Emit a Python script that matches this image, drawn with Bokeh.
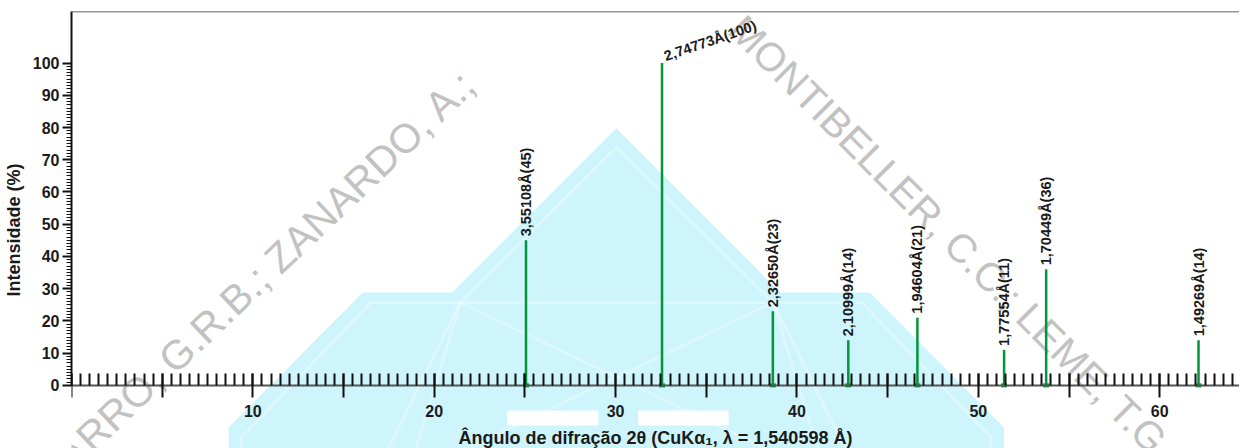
import math
from bokeh.plotting import figure
from bokeh.models import (Range1d, SingleIntervalTicker, FixedTicker, Span,
                          ColumnDataSource, PolyAnnotation, Label)
from bokeh.core.properties import value
from bokeh.embed import file_html
from bokeh.resources import INLINE

# ---------------- data ----------------
two_theta = [25.06, 32.56, 38.67, 42.83, 46.64, 51.42, 53.74, 62.14]
intensity = [45, 100, 23, 14, 21, 11, 36, 14]
d_spacing = ["3,55108", "2,74773", "2,32650", "2,10999",
             "1,94604", "1,77554", "1,70449", "1,49269"]
x_label_values = [10, 20, 30, 40, 50, 60]
y_tick_values = [0, 10, 20, 30, 40, 50, 60, 70, 80, 90, 100]

x_title = "Ângulo de difração 2θ (CuKα₁, λ = 1,540598 Å)"
y_title = "Intensidade (%)"
wm_left = "ZARRO, G.R.B.; ZANARDO, A.;"
wm_right = "MONTIBELLER, C.C.; LEME, T.G."

X0, X1 = 0, 64.4
Y1 = 116
Y0 = -19.59   # the frame runs down to the bottom of the page; the x axis sits at 0

FONT = "Liberation Sans"
GREEN = "#00963c"
INK = "#1a1a1a"

p = figure(width=1239, height=448, output_backend="svg", toolbar_location=None,
           x_range=Range1d(X0, X1), y_range=Range1d(Y0, Y1),
           min_border_left=64, min_border_right=0, min_border_top=11,
           min_border_bottom=0)
p.outline_line_color = None
p.grid.visible = False
p.background_fill_color = "white"
p.border_fill_color = "white"

# ---------------- watermark (page pixel geometry -> data) ----------------
FL, FR, FT, FB = 72, 1247, 11, 448
def wx(px):
    return X0 + (px - FL) * (X1 - X0) / (FR - FL)
def wy(py):
    return Y0 + (FB - py) * (Y1 - Y0) / (FB - FT)

def poly(pts, **kw):
    p.add_layout(PolyAnnotation(xs=[wx(a) for a, b in pts], ys=[wy(b) for a, b in pts],
                                level="underlay", **kw))

poly([(620, 128), (785, 292), (875, 292), (1010, 427), (1010, 470),
      (230, 470), (230, 427), (365, 292), (455, 292)],
     fill_color="#cdf5fb", fill_alpha=1.0, line_color=None)
white_lines = [
    [(243, 470), (243, 437), (373, 302), (867, 302), (997, 437), (997, 470)],
    [(463, 302), (620, 147), (778, 302)],
    [(463, 302), (817, 470)],
    [(778, 302), (424, 470)],
    [(463, 302), (380, 470)],
    [(463, 302), (412, 470)],
    [(778, 302), (861, 470)],
    [(778, 302), (829, 470)],
]
for pts in white_lines:
    poly(pts + list(reversed(pts)), fill_alpha=0, line_color="white", line_width=3)
for (a, b) in [(510, 602), (642, 733)]:
    poly([(a, 410), (b, 410), (b, 425), (a, 425)], fill_color="white", fill_alpha=1.0,
         line_color=None)

for txt, (cx, cy), ang, fs in [(wm_left, (259, 278), 43.5, "41px"),
                               (wm_right, (958, 238), -45.0, "40px")]:
    p.add_layout(Label(x=wx(cx), y=wy(cy), text=txt, angle=math.radians(ang),
                       text_align="center", text_baseline="middle",
                       text_font=FONT, text_font_size=fs,
                       text_color="#c2c2c2", level="underlay"))

# ---------------- peaks ----------------
labels = [f"{d}Å({i})" for d, i in zip(d_spacing, intensity)]
src = ColumnDataSource(dict(x=two_theta, y=intensity, zero=[0] * len(two_theta), lab=labels))
p.segment(x0="x", y0="zero", x1="x", y1="y", source=src, line_color=GREEN, line_width=2.5)
p.rect(x="x", y="zero", width=6, height=4, width_units="screen", height_units="screen",
       source=src, fill_color=GREEN, line_color=None)

imax = intensity.index(max(intensity))
vert = [k for k in range(len(two_theta)) if k != imax]
vsrc = ColumnDataSource(dict(x=[two_theta[k] for k in vert], y=[intensity[k] for k in vert],
                             lab=[labels[k] for k in vert]))
p.text(x="x", y="y", text="lab", source=vsrc, angle=math.pi / 2, text_align="left",
       text_baseline="middle", y_offset=-4, text_font=value(FONT),
       text_font_style="bold", text_font_size="14.5px", text_color=INK)
tsrc = ColumnDataSource(dict(x=[two_theta[imax]], y=[intensity[imax]], lab=[labels[imax]]))
p.text(x="x", y="y", text="lab", source=tsrc, angle=math.radians(19), text_align="left",
       text_baseline="bottom", x_offset=5, y_offset=1, text_font=value(FONT),
       text_font_style="bold", text_font_size="14.5px", text_color=INK)

# top border line
p.add_layout(Span(location=Y1, dimension="width", line_color="#333333", line_width=1.5))

# ---------------- axes ----------------
xa = p.xaxis[0]
xa.fixed_location = 0
xa.ticker = SingleIntervalTicker(interval=5, num_minor_ticks=10)
xa.major_label_overrides = {t: "" for t in range(0, 70, 5) if t not in x_label_values}
xa.axis_line_color = "#555555"
xa.axis_line_width = 2
xa.major_tick_in = 12
xa.major_tick_out = 12
xa.minor_tick_in = 12
xa.minor_tick_out = 0
xa.major_tick_line_width = 2
xa.minor_tick_line_width = 2
xa.major_tick_line_color = "#111111"
xa.minor_tick_line_color = "#111111"
xa.major_label_standoff = 8
xa.major_label_text_font = FONT
xa.major_label_text_font_style = "bold"
xa.major_label_text_font_size = "16px"
xa.major_label_text_color = INK
xa.axis_label = x_title
xa.axis_label_text_font = FONT
xa.axis_label_text_font_style = "bold"
xa.axis_label_text_font_size = "18px"
xa.axis_label_text_color = INK
xa.axis_label_standoff = 7

ya = p.yaxis[0]
ya.bounds = (0, Y1)
ya.ticker = FixedTicker(ticks=y_tick_values, minor_ticks=list(range(0, 101)))
ya.axis_line_color = "#111111"
ya.axis_line_width = 2
ya.major_tick_in = 0
ya.major_tick_out = 9
ya.minor_tick_in = 0
ya.minor_tick_out = 5
ya.major_tick_line_width = 2
ya.minor_tick_line_width = 1
ya.major_tick_line_color = "#111111"
ya.minor_tick_line_color = "#111111"
ya.major_label_standoff = 3
ya.major_label_text_font = FONT
ya.major_label_text_font_style = "bold"
ya.major_label_text_font_size = "16px"
ya.major_label_text_color = INK
ya.axis_label = y_title
ya.axis_label_text_font = FONT
ya.axis_label_text_font_style = "bold"
ya.axis_label_text_font_size = "18px"
ya.axis_label_text_color = INK
ya.axis_label_standoff = 6

open("out.html", "w").write(file_html(p, INLINE))
